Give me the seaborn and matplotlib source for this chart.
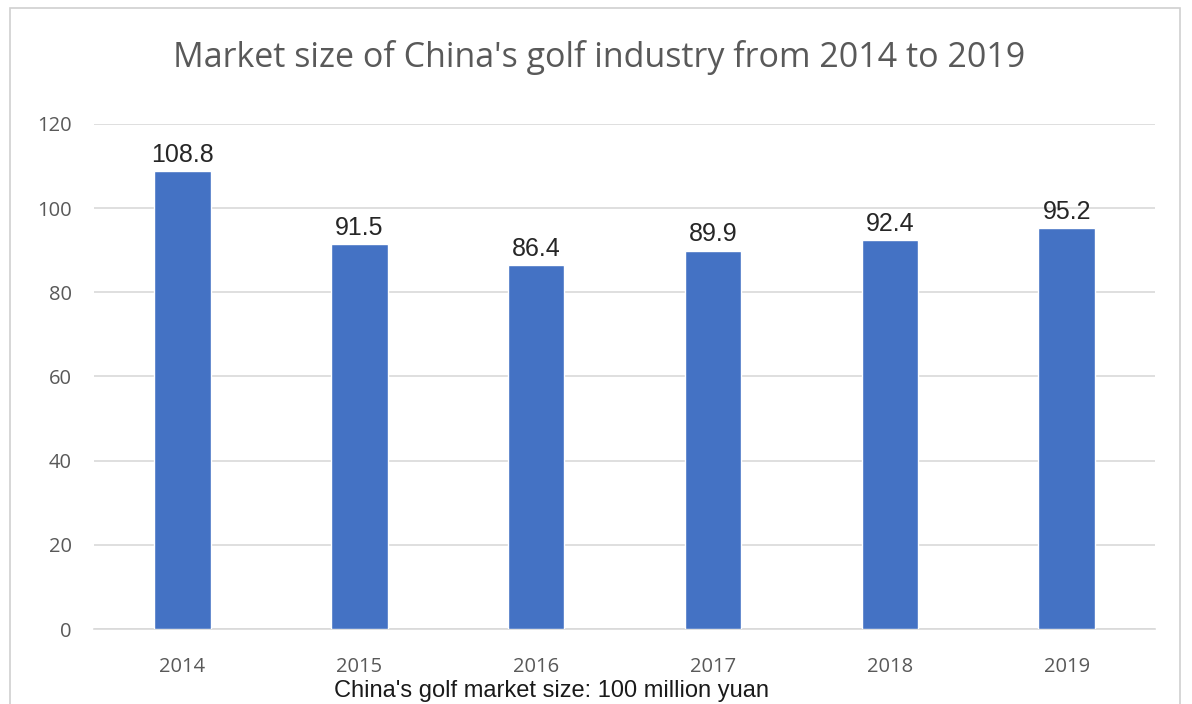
import matplotlib
matplotlib.use("Agg")
import matplotlib.pyplot as plt
import seaborn as sns
import pandas as pd
from matplotlib.patches import Rectangle

years = ["2014", "2015", "2016", "2017", "2018", "2019"]
market_size = [108.8, 91.5, 86.4, 89.9, 92.4, 95.2]
y_ticks = [0, 20, 40, 60, 80, 100, 120]

title = "Market size of China's golf industry from 2014 to 2019"
unit_label = "China's golf market size: 100 million yuan"

sns.set_theme(style="white")
plt.rcParams["font.family"] = ["Open Sans", "DejaVu Sans"]

df = pd.DataFrame({"year": years, "size": market_size})

fig = plt.figure(figsize=(11.92, 7.04), dpi=100)
fig.patch.set_facecolor("white")
ax = fig.add_axes([0.0789, 0.1065, 0.8901, 0.7174])

sns.barplot(data=df, x="year", y="size", color="#4472C4", width=0.32,
            saturation=1, ax=ax, zorder=3)

ax.set_ylim(0, 120)
ax.set_xlim(-0.5, len(years) - 0.5)
ax.set_yticks(y_ticks)
ax.yaxis.grid(True, color="#d9d9d9", linewidth=1.2, zorder=0)
ax.set_axisbelow(True)
for s in ["top", "right", "left"]:
    ax.spines[s].set_visible(False)
ax.spines["bottom"].set_color("#d9d9d9")
ax.spines["bottom"].set_linewidth(1.2)
ax.tick_params(axis="both", length=0, labelsize=14.5, labelcolor="#595959")
ax.tick_params(axis="x", pad=20)
ax.tick_params(axis="y", pad=16)
ax.set_xlabel("")
ax.set_ylabel("")

for i, v in enumerate(market_size):
    ax.annotate(f"{v}", (i, v), xytext=(0, 3), textcoords="offset points",
                ha="center", va="bottom", fontsize=18, color="#262626",
                family=["Liberation Sans", "DejaVu Sans"])

fig.text(0.503, 0.918, title, ha="center", va="center", fontsize=24.5,
         color="#595959")
fig.text(0.463, 0.018, unit_label, ha="center", va="center", fontsize=17,
         color="#1a1a1a", family=["Liberation Sans", "DejaVu Sans"])

fig.add_artist(Rectangle((10 / 1192, -0.01), 1170 / 1192, 1 - 8 / 704 + 0.01,
                         transform=fig.transFigure, fill=False,
                         edgecolor="#d0d0d0", linewidth=1.2))

fig.savefig("out.png", dpi=100, facecolor="white")
